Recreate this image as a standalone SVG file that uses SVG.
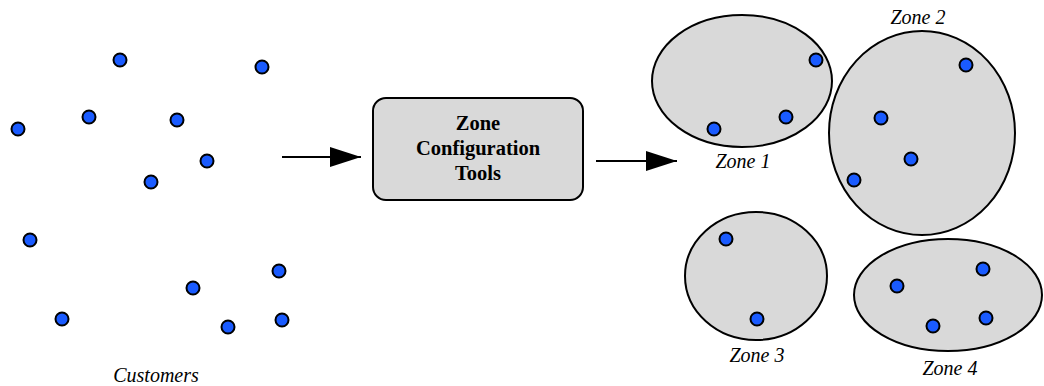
<svg xmlns="http://www.w3.org/2000/svg" width="1044" height="386" viewBox="0 0 1044 386">
<defs>
<style>
.dot{fill:#1a5bff;stroke:#000;stroke-width:2}
.zone{fill:#d9d9d9;stroke:#000;stroke-width:2}
.lbl{font-family:'Liberation Serif','Times New Roman',Times,'DejaVu Serif',serif;font-style:italic;font-size:20px;fill:#000;text-anchor:middle}
.box{fill:#d9d9d9;stroke:#000;stroke-width:2}
.boxt{font-family:'Liberation Serif','Times New Roman',Times,'DejaVu Serif',serif;font-weight:bold;font-size:20.5px;fill:#000;text-anchor:middle}
.conn{stroke:#000;stroke-width:2;fill:none}
</style>
<marker id="ah" markerUnits="userSpaceOnUse" markerWidth="32" markerHeight="20" refX="31" refY="10" orient="auto">
<path d="M0,0 L31,10 L0,20 Z" fill="#000"/>
</marker>
</defs>
<rect width="1044" height="386" fill="#fff"/>
<g id="customers">
<circle class="dot" cx="120" cy="60" r="6.5"/>
<circle class="dot" cx="262" cy="67" r="6.5"/>
<circle class="dot" cx="18" cy="129" r="6.5"/>
<circle class="dot" cx="89" cy="117" r="6.5"/>
<circle class="dot" cx="177" cy="120" r="6.5"/>
<circle class="dot" cx="207" cy="161" r="6.5"/>
<circle class="dot" cx="151" cy="182" r="6.5"/>
<circle class="dot" cx="30" cy="240" r="6.5"/>
<circle class="dot" cx="62" cy="319" r="6.5"/>
<circle class="dot" cx="193" cy="288" r="6.5"/>
<circle class="dot" cx="279" cy="271" r="6.5"/>
<circle class="dot" cx="228" cy="327" r="6.5"/>
<circle class="dot" cx="282" cy="320" r="6.5"/>
<text class="lbl" x="156" y="382" font-family="Liberation Serif, serif">Customers</text>
</g>
<g id="tools">
<rect class="box" x="373" y="98" width="210" height="102" rx="13"/>
<text class="boxt" x="478" y="130" font-family="Liberation Serif, serif">Zone</text>
<text class="boxt" x="478" y="155" font-family="Liberation Serif, serif">Configuration</text>
<text class="boxt" x="478" y="180" font-family="Liberation Serif, serif">Tools</text>
</g>
<g id="zone1">
<ellipse class="zone" cx="742" cy="81" rx="90" ry="66"/>
<circle class="dot" cx="816" cy="60" r="6.5"/>
<circle class="dot" cx="786" cy="117" r="6.5"/>
<circle class="dot" cx="714" cy="129" r="6.5"/>
<text class="lbl" x="743" y="168" font-family="Liberation Serif, serif">Zone 1</text>
</g>
<g id="zone2">
<ellipse class="zone" cx="922" cy="133" rx="93" ry="102"/>
<circle class="dot" cx="966" cy="65" r="6.5"/>
<circle class="dot" cx="881" cy="118" r="6.5"/>
<circle class="dot" cx="911" cy="159" r="6.5"/>
<circle class="dot" cx="854" cy="180" r="6.5"/>
<text class="lbl" x="918" y="24" font-family="Liberation Serif, serif">Zone 2</text>
</g>
<g id="zone3">
<ellipse class="zone" cx="756" cy="276" rx="71" ry="64"/>
<circle class="dot" cx="726" cy="239" r="6.5"/>
<circle class="dot" cx="757" cy="319" r="6.5"/>
<text class="lbl" x="757" y="362" font-family="Liberation Serif, serif">Zone 3</text>
</g>
<g id="zone4">
<ellipse class="zone" cx="948" cy="295" rx="94" ry="56"/>
<circle class="dot" cx="897" cy="286" r="6.5"/>
<circle class="dot" cx="983" cy="269" r="6.5"/>
<circle class="dot" cx="933" cy="326" r="6.5"/>
<circle class="dot" cx="986" cy="318" r="6.5"/>
<text class="lbl" x="950" y="375" font-family="Liberation Serif, serif">Zone 4</text>
</g>
<g id="connectors">
<line class="conn" x1="282" y1="157" x2="361" y2="157" marker-end="url(#ah)"/>
<line class="conn" x1="596" y1="161" x2="677" y2="161" marker-end="url(#ah)"/>
</g>
</svg>
